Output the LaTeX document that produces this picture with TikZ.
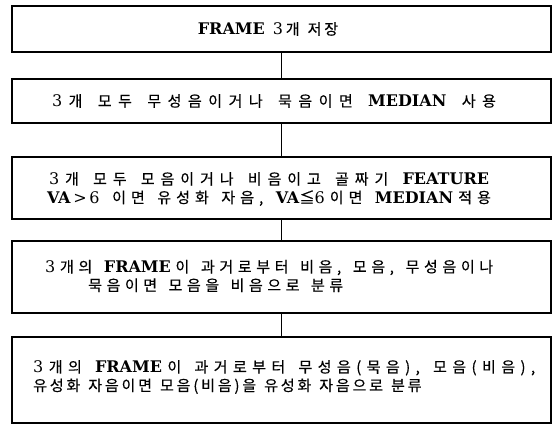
\documentclass[tikz,border=0pt]{standalone}
\usepackage{fontspec}
\setmainfont{DejaVu Serif}
\newfontfamily\krfont{Noto Sans CJK KR}[Scale=0.94, FakeBold=0.4]
\newcommand\lat[1]{{\rmfamily #1}}
\newcommand\spread[2]{\makebox[#1][s]{#2}}
\newskip\mycg \mycg=2.8pt plus 2pt
\newskip\mywg \mywg=8pt plus 4pt
\newcommand\cg{\hskip\mycg\relax}
\newcommand\wg{\hskip\mywg\relax}
\ExplSyntaxOn
\seq_new:N \l_hg_words_seq
\bool_new:N \l_hg_firstc_bool
\bool_new:N \l_hg_firstw_bool
\cs_new_protected:Npn \hg_word:n #1
  {
    \bool_set_true:N \l_hg_firstc_bool
    \tl_map_inline:nn {#1}
      {
        \bool_if:NF \l_hg_firstc_bool { \cg }
        \bool_set_false:N \l_hg_firstc_bool
        ##1
      }
  }
\NewDocumentCommand \hg { m }
  {
    \seq_set_split:Nnn \l_hg_words_seq { ~ } {#1}
    \bool_set_true:N \l_hg_firstw_bool
    \seq_map_inline:Nn \l_hg_words_seq
      {
        \bool_if:NF \l_hg_firstw_bool { \wg }
        \bool_set_false:N \l_hg_firstw_bool
        \hg_word:n {##1}
      }
  }
\ExplSyntaxOff
\begin{document}
\begin{tikzpicture}[x=1pt,y=-1pt,
  box/.style={draw, line width=1.4pt, minimum width=539pt, anchor=north west, inner sep=0pt, outer sep=0pt},
  txt/.style={font=\krfont\fontsize{16}{18.5}\selectfont, inner sep=0pt},
  conn/.style={draw, line width=1.2pt}]
\useasboundingbox (0,0) rectangle (553,426);
\node[box, minimum height=46pt] (b1) at (12,6) {};
\node[box, minimum height=44pt] (b2) at (12,79) {};
\node[box, minimum height=62pt] (b3) at (12,157) {};
\node[box, minimum height=72pt] (b4) at (12,241) {};
\node[box, minimum height=86pt] (b5) at (12,337) {};
\draw[conn] (b1.south) -- (b2.north);
\draw[conn] (b2.south) -- (b3.north);
\draw[conn] (b3.south) -- (b4.north);
\draw[conn] (b4.south) -- (b5.north);
\node[txt] (t1) at (268,29) {\lat{\textbf{FRAME}}\wg\lat{3}\cg\hg{개 저장}};
\node[txt] (t2) at (274,101) {\spread{444pt}{\lat{3}\cg\hg{개 모두 무성음이거나 묵음이면}\wg\lat{\textbf{MEDIAN}}\wg\hg{사용}}};
\node[txt, align=center] (t3) at (269,189) {\spread{440pt}{\lat{3}\cg\hg{개 모두 모음이거나 비음이고 골짜기}\wg\lat{\textbf{FEATURE}}}\\
  \spread{444pt}{\lat{\textbf{VA}\,>\,6}\wg\hg{이면 유성화 자음,}\wg\lat{\textbf{VA}}≦\lat{6}\cg\hg{이면}\wg\lat{\textbf{MEDIAN}}\cg\hg{적용}}};
\node[txt, align=left, anchor=west] (t4) at (45,276) {\spread{448pt}{\lat{3}\cg\hg{개의}\wg\lat{\textbf{FRAME}}\cg\hg{이 과거로부터 비음, 모음, 무성음이나}}\\
  \hspace*{43pt}\spread{255pt}{\hg{묵음이면 모음을 비음으로 분류}}};
\node[txt, align=left, anchor=west] (t5) at (33,377) {\spread{502pt}{\lat{3}\cg\hg{개의}\wg\lat{\textbf{FRAME}}\cg\hg{이 과거로부터 무성음(묵음), 모음(비음),}}\\
  \hg{유성화 자음이면 모음(비음)을 유성화 자음으로 분류}};
\end{tikzpicture}
\end{document}
